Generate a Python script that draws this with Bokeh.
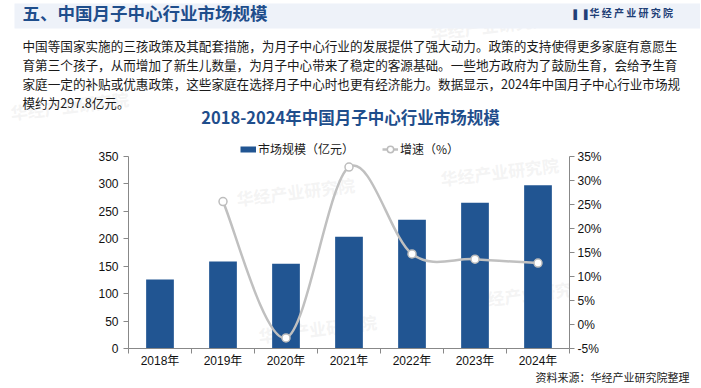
from bokeh.plotting import figure
from bokeh.layouts import column
from bokeh.models import (Range1d, LinearAxis, FixedTicker, Label, Legend, LegendItem)
from bokeh.embed import file_html
from bokeh.resources import INLINE

# ---------------- data ----------------
years = ["2018年", "2019年", "2020年", "2021年", "2022年", "2023年", "2024年"]
market_size = [125.6, 158.4, 154.7, 203.9, 234.8, 265.7, 297.8]   # 亿元
growth_years = years[1:]
growth = [25.6, -2.8, 32.8, 14.7, 13.6, 12.8]                      # %
left_ticks = [0, 50, 100, 150, 200, 250, 300, 350]
right_ticks = [-5, 0, 5, 10, 15, 20, 25, 30, 35]

header_title = "五、中国月子中心行业市场规模"
brand = "华 经 产 业 研 究 院"
paragraph = [
    "中国等国家实施的三孩政策及其配套措施，为月子中心行业的发展提供了强大动力。政策的支持使得更多家庭有意愿生",
    "育第三个孩子，从而增加了新生儿数量，为月子中心带来了稳定的客源基础。一些地方政府为了鼓励生育，会给予生育",
    "家庭一定的补贴或优惠政策，这些家庭在选择月子中心时也更有经济能力。数据显示，2024年中国月子中心行业市场规",
    "模约为297.8亿元。",
]
chart_title = "2018-2024年中国月子中心行业市场规模"
legend_labels = ["市场规模（亿元）", "增速（%）"]
source_note = "资料来源：华经产业研究院整理"
watermark = "华经产业研究院"

# ---------------- style ----------------
W = 700
CJK = "'Noto Sans CJK SC', 'Noto Sans', sans-serif"
LAT = "'Liberation Sans', 'Noto Sans CJK SC', sans-serif"
AXIS_C = "#888888"
BAR_C = "#215592"
LINE_C = "#c0c0c0"
NAVY = "#1f4e8c"
WM_C = "#d9d9d9"
DY = 3          # visual offset of CJK "middle" baseline

# page rows (pixel rows of the page)
SPLIT1, SPLIT2, END = 131, 371, 387
# chart frame in page pixels: axes span FY0..FY1, frame starts at FYT
FX0, FX1, FY0, FY1, FYT = 128, 569, 156, 348, 140
NX = len(years)
YMAX = left_ticks[-1]
EXT = (FY1 - FYT) / (FY1 - FY0)   # frame is taller than the axes so the legend fits inside


def blank_fig(y0, y1):
    f = figure(width=W, height=y1 - y0, output_backend="svg", toolbar_location=None,
               x_range=Range1d(0, W), y_range=Range1d(y1, y0),
               x_axis_location=None, y_axis_location=None,
               min_border=0, min_border_left=0, min_border_right=0,
               min_border_top=0, min_border_bottom=0,
               outline_line_color=None, frame_align=False,
               background_fill_color="white", border_fill_color="white")
    f.grid.visible = False
    return f


def lab(fig, x, y, text, size, color="#1a1a1a", bold=False, align="left", font=CJK, **kw):
    fig.add_layout(Label(x=x, y=y, text=text, text_font=font, text_font_size=size,
                         text_color=color, text_font_style="bold" if bold else "normal",
                         text_baseline="middle", text_align=align, **kw))


def wm(fig, x, y):
    fig.add_layout(Label(x=x, y=y, text=watermark, text_font=CJK,
                         text_font_size="17px", text_font_style="bold", text_color=WM_C,
                         text_alpha=0.3, angle=0.12, text_baseline="middle",
                         text_align="left", level="underlay"))


# ================= top block: header, paragraph, title =================
top = blank_fig(0, SPLIT1)
top.quad(left=[14], right=[W + 5], top=[3], bottom=[28], fill_color="#eef2f9", line_color=None)
for wx, wy in [(430, 32), (10, 112)]:
    wm(top, wx, wy)
lab(top, 22, 15 - DY, header_title, "17.5px", NAVY, True)
lab(top, 573, 15 - 1, "▌▐", "9px", "#1f3f77", font="DejaVu Sans")
lab(top, 589, 15 - DY, brand, "10px", "#1f3f77", True)
for i, line in enumerate(paragraph):
    lab(top, 22, 47.5 + i * 19.2 - DY, line, "12.6px")
lab(top, 350, 119.5 - DY, chart_title, "16.5px", NAVY, True, align="center")

# ================= chart =================
p = figure(width=W, height=SPLIT2 - SPLIT1, output_backend="svg", toolbar_location=None,
           x_range=Range1d(0, NX), y_range=Range1d(left_ticks[0], YMAX * EXT),
           min_border_left=FX0, min_border_right=W - FX1,
           min_border_top=FYT - SPLIT1, min_border_bottom=SPLIT2 - FY1,
           background_fill_color="white", border_fill_color="white",
           outline_line_color=None, frame_align=False)
p.extra_y_ranges = {
    "pct": Range1d(right_ticks[0], right_ticks[0] + (right_ticks[-1] - right_ticks[0]) * EXT),
    "key": Range1d(-2000, -1000),   # off-screen range used only for the legend key
}
p.grid.visible = False


def X(px):
    return (px - FX0) / (FX1 - FX0) * NX


def Y(py):
    return (FY1 - py) / (FY1 - FY0) * YMAX


xc = [i + 0.5 for i in range(NX)]
gx = xc[1:]

xa = p.xaxis[0]
xa.ticker = FixedTicker(ticks=xc, minor_ticks=list(range(NX + 1)))
xa.major_label_overrides = {x: y for x, y in zip(xc, years)}
xa.major_tick_line_color = None
xa.major_tick_out = 0
xa.major_tick_in = 0
xa.minor_tick_line_color = AXIS_C
xa.minor_tick_out = 5
xa.minor_tick_in = 0
xa.axis_line_color = AXIS_C
xa.major_label_standoff = 0
xa.major_label_text_font = LAT
xa.major_label_text_font_size = "12px"
xa.major_label_text_color = "#111111"

ya = p.yaxis[0]
ya.ticker = FixedTicker(ticks=left_ticks, minor_ticks=[])
ya.bounds = (left_ticks[0], left_ticks[-1])
ya.axis_line_color = AXIS_C
ya.major_tick_line_color = AXIS_C
ya.major_tick_out = 5
ya.major_tick_in = 0
ya.minor_tick_line_color = None
ya.major_label_standoff = 5
ya.major_label_text_font = LAT
ya.major_label_text_font_size = "12px"
ya.major_label_text_color = "#111111"

ra = LinearAxis(y_range_name="pct", ticker=FixedTicker(ticks=right_ticks, minor_ticks=[]),
                bounds=(right_ticks[0], right_ticks[-1]))
ra.major_label_overrides = {v: f"{v}%" for v in right_ticks}
ra.axis_line_color = AXIS_C
ra.major_tick_line_color = AXIS_C
ra.major_tick_out = 5
ra.major_tick_in = 0
ra.minor_tick_line_color = None
ra.major_label_standoff = 3
ra.major_label_text_font = LAT
ra.major_label_text_font_size = "12px"
ra.major_label_text_color = "#111111"
p.add_layout(ra, "right")

for wx, wy in [(236, 198), (440, 178), (258, 335), (470, 300)]:
    p.add_layout(Label(x=X(wx), y=Y(wy), text=watermark, text_font=CJK,
                       text_font_size="17px", text_font_style="bold", text_color=WM_C,
                       text_alpha=0.3, angle=0.12, text_baseline="middle",
                       text_align="left", level="underlay"))

bars = p.vbar(x=xc, top=market_size, width=0.44, fill_color=BAR_C, line_color=None)

# smoothed growth curve (Catmull-Rom style, like a spreadsheet's smoothed line)
n = len(gx)
x0s, y0s, x1s, y1s, cx0, cy0, cx1, cy1 = [], [], [], [], [], [], [], []
for i in range(n - 1):
    a, b = max(i - 1, 0), min(i + 2, n - 1)
    x0s.append(gx[i]); y0s.append(growth[i])
    x1s.append(gx[i + 1]); y1s.append(growth[i + 1])
    cx0.append(gx[i] + (gx[i + 1] - gx[a]) / 6)
    cy0.append(growth[i] + (growth[i + 1] - growth[a]) / 6)
    cx1.append(gx[i + 1] - (gx[b] - gx[i]) / 6)
    cy1.append(growth[i + 1] - (growth[b] - growth[i]) / 6)
curve = p.bezier(x0=x0s, y0=y0s, x1=x1s, y1=y1s, cx0=cx0, cy0=cy0, cx1=cx1, cy1=cy1,
                 line_color=LINE_C, line_width=2.5, y_range_name="pct")
pts = p.scatter(x=gx, y=growth, marker="circle", size=8, fill_color="white",
                line_color="#bdbdbd", line_width=1.5, y_range_name="pct")

# legend key for the bars: a short thick bar like the reference key
# (drawn on an off-screen range so only its legend swatch is visible)
bar_key = p.line(x=xc, y=market_size, line_color=BAR_C, line_width=6, line_cap="butt",
                 y_range_name="key")

legend = Legend(items=[LegendItem(label=legend_labels[0], renderers=[bar_key]),
                       LegendItem(label=legend_labels[1], renderers=[curve, pts])],
                location=(240 - FX0, FY1 - 157), orientation="horizontal",
                glyph_width=16, glyph_height=16, label_height=16, label_standoff=2,
                spacing=28, padding=0, margin=0, border_line_color=None,
                background_fill_alpha=0, label_text_font=CJK,
                label_text_font_size="12px", label_text_color="#1a1a1a")
p.add_layout(legend)

# ================= source note =================
note = blank_fig(SPLIT2, END)
lab(note, 689, 379 - DY, source_note, "11px", "#222222", align="right")

page = column(top, p, note, spacing=0)
open("out.html", "w").write(file_html(page, INLINE))
